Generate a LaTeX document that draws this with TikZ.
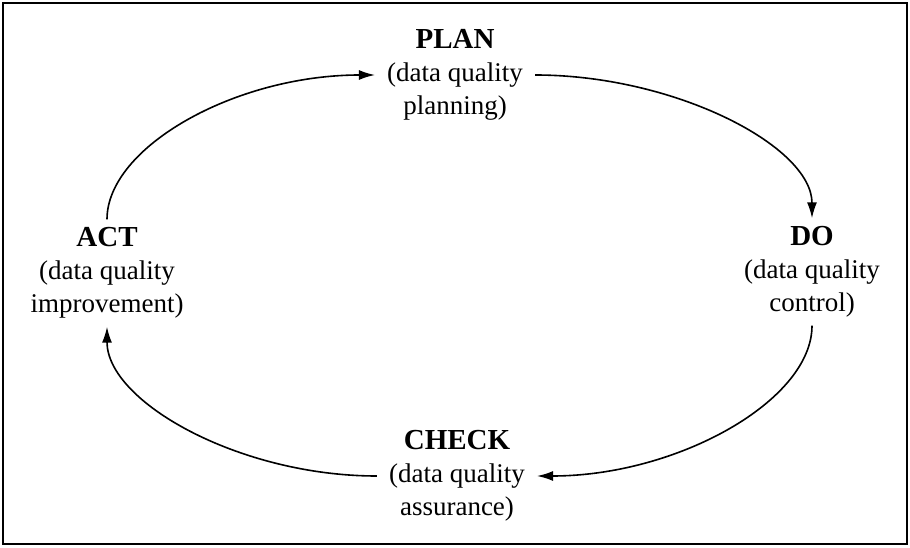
\documentclass[tikz,border=0pt]{standalone}
\usepackage{fontspec}
\setmainfont{Liberation Serif}
\usetikzlibrary{arrows.meta}
\newcommand{\phasehead}[1]{{\fontsize{29}{33}\selectfont\textbf{#1}}}

\begin{document}
\begin{tikzpicture}[x=1pt, y=1pt, phase/.style = {align=center, inner xsep=12pt, inner ysep=8pt, font=\fontsize{27}{33}\selectfont}, cyc/.style = {line width=1.6pt, -{Latex[length=16pt, width=10pt]}}] 
		\useasboundingbox (0,0) rectangle (910,547);
		\draw[line width=2pt] (3,3) rectangle (907,544);
		\node[phase] (plan) at (455,472) {\phasehead{PLAN}\\(data quality\\planning)}; 
		\node[phase] (do) at (812,275) {\phasehead{DO}\\(data quality\\control)};
		\node[phase] (check) at (457,71) {\phasehead{CHECK}\\(data quality\\assurance)};
		\node[phase] (act) at (107,274) {\phasehead{ACT}\\(data quality\\improvement)};
		\draw[cyc] (act.north) .. controls +(0,72) and +(-140,0) .. (plan.west);
		\draw[cyc] (plan.east) .. controls +(140,0) and +(0,72) .. (do.north);
		\draw[cyc] (do.south) .. controls +(0,-75) and +(140,0) .. (check.east);
		\draw[cyc] (check.west) .. controls +(-138,0) and +(0,-75) .. (act.south);
	\end{tikzpicture}
\end{document}
